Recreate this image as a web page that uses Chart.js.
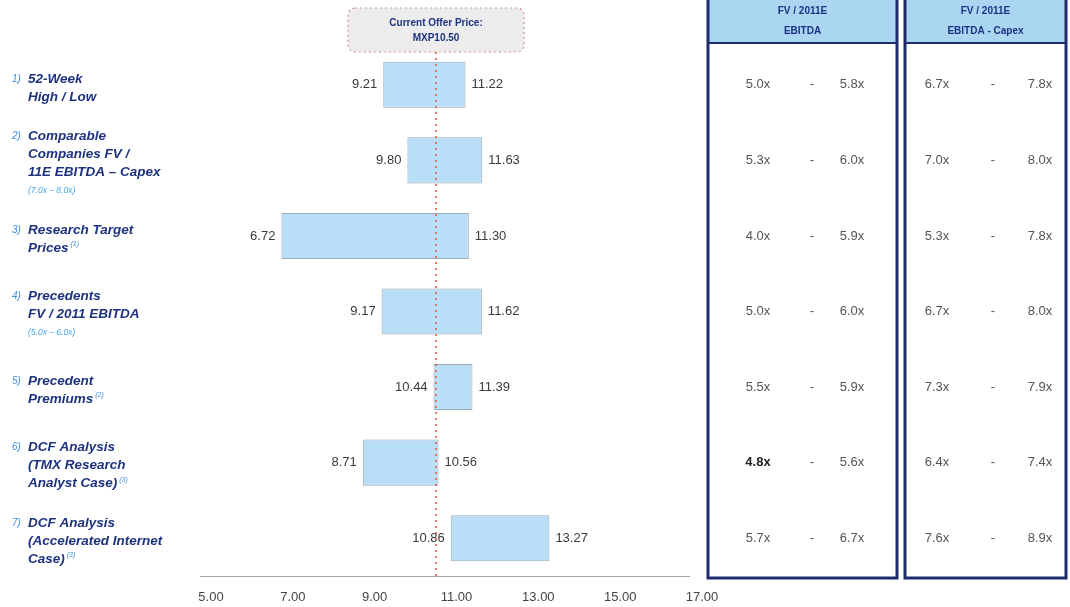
<!DOCTYPE html>
<html>
<head>
<meta charset="utf-8">
<script src="https://cdn.jsdelivr.net/npm/chart.js@4/dist/chart.umd.min.js"></script>
<style>
  html, body { margin: 0; padding: 0; background: #ffffff; }
  #wrap { position: relative; width: 1070px; height: 607px; }
</style>
</head>
<body>
<div id="wrap"><canvas id="football"></canvas></div>
<script>
// Valuation methods (one row each)
const categories = [
  '52-Week High / Low',
  'Comparable Companies FV / 11E EBITDA – Capex',
  'Research Target Prices',
  'Precedents FV / 2011 EBITDA',
  'Precedent Premiums',
  'DCF Analysis (TMX Research Analyst Case)',
  'DCF Analysis (Accelerated Internet Case)'
];
const labelLines = [
  ['52-Week', 'High / Low'],
  ['Comparable', 'Companies FV /', '11E EBITDA – Capex'],
  ['Research Target', 'Prices'],
  ['Precedents', 'FV / 2011 EBITDA'],
  ['Precedent', 'Premiums'],
  ['DCF Analysis', '(TMX Research', 'Analyst Case)'],
  ['DCF Analysis', '(Accelerated Internet', 'Case)']
];
const labelNotes = ['', '(7.0x – 8.0x)', '', '(5.0x – 6.0x)', '', '', ''];
const footnoteMarks = ['', '', '(1)', '', '(2)', '(3)', '(3)'];

// Implied share price ranges (MXP)
const lowValues  = [9.21, 9.80, 6.72, 9.17, 10.44, 8.71, 10.86];
const highValues = [11.22, 11.63, 11.30, 11.62, 11.39, 10.56, 13.27];
const offerPrice = 10.50;

// Implied multiples
const ebitdaLow  = [5.0, 5.3, 4.0, 5.0, 5.5, 4.8, 5.7];
const ebitdaHigh = [5.8, 6.0, 5.9, 6.0, 5.9, 5.6, 6.7];
const capexLow   = [6.7, 7.0, 5.3, 6.7, 7.3, 6.4, 7.6];
const capexHigh  = [7.8, 8.0, 7.8, 8.0, 7.9, 7.4, 8.9];

// Price axis
const axisMin = 5;
const axisMax = 17;
const axisStep = 2;

const NAVY = '#1d3280';
const LIGHT_BLUE = '#3f8fdc';
const FONT = '"Liberation Sans", Arial, sans-serif';

const ranges = lowValues.map((lo, i) => [lo, highValues[i]]);

const overlayPlugin = {
  id: 'overlay',
  afterDatasetsDraw(chart) {
    const { ctx, scales: { x } } = chart;
    const meta = chart.getDatasetMeta(0);

    // value labels at both ends of each bar
    ctx.save();
    ctx.font = '13px ' + FONT;
    ctx.fillStyle = '#3a3a3a';
    ctx.textBaseline = 'middle';
    meta.data.forEach((bar, i) => {
      const left = Math.min(bar.x, bar.base);
      const right = Math.max(bar.x, bar.base);
      ctx.textAlign = 'right';
      ctx.fillText(lowValues[i].toFixed(2), left - 6, bar.y);
      ctx.textAlign = 'left';
      ctx.fillText(highValues[i].toFixed(2), right + 6, bar.y);
    });
    ctx.restore();

    // offer price reference line
    const px = x.getPixelForValue(offerPrice);
    ctx.save();
    ctx.strokeStyle = '#e5553f';
    ctx.lineWidth = 1.5;
    ctx.setLineDash([2, 4]);
    ctx.beginPath();
    ctx.moveTo(px, 52);
    ctx.lineTo(px, chart.chartArea.bottom + 2);
    ctx.stroke();
    ctx.restore();
  },
  afterDraw(chart) {
    const { ctx, scales: { x, y } } = chart;

    // axis baseline
    ctx.save();
    ctx.strokeStyle = '#a8a8a8';
    ctx.lineWidth = 1;
    ctx.beginPath();
    ctx.moveTo(x.getPixelForValue(axisMin) - 11, chart.chartArea.bottom + 0.5);
    ctx.lineTo(x.getPixelForValue(axisMax) - 12, chart.chartArea.bottom + 0.5);
    ctx.stroke();
    ctx.restore();

    // offer price callout
    const px = x.getPixelForValue(offerPrice);
    ctx.save();
    const bw = 176, bh = 44, bx = px - bw / 2, by = 8;
    ctx.beginPath();
    ctx.roundRect(bx, by, bw, bh, 7);
    ctx.fillStyle = '#ececec';
    ctx.fill();
    ctx.setLineDash([2, 3]);
    ctx.strokeStyle = '#d19690';
    ctx.lineWidth = 1.2;
    ctx.stroke();
    ctx.setLineDash([]);
    ctx.fillStyle = NAVY;
    ctx.font = 'bold 10px ' + FONT;
    ctx.textAlign = 'center';
    ctx.textBaseline = 'middle';
    ctx.fillText('Current Offer Price:', px, by + 15);
    ctx.fillText('MXP' + offerPrice.toFixed(2), px, by + 30);
    ctx.restore();

    // method labels on the left
    ctx.save();
    ctx.textBaseline = 'middle';
    ctx.textAlign = 'left';
    const lineH = 18;
    const noteH = 18;
    categories.forEach((cat, i) => {
      const cy = y.getPixelForValue(i) + 3;
      const lines = labelLines[i];
      const blockH = (lines.length - 1) * lineH + (labelNotes[i] ? noteH : 0);
      let ty = cy - blockH / 2;
      ctx.font = 'italic 10px ' + FONT;
      ctx.fillStyle = LIGHT_BLUE;
      ctx.fillText((i + 1) + ')', 12, ty);
      lines.forEach((ln, k) => {
        ctx.font = 'italic bold 13.5px ' + FONT;
        ctx.fillStyle = NAVY;
        ctx.fillText(ln, 28, ty);
        if (k === lines.length - 1 && footnoteMarks[i]) {
          const w = ctx.measureText(ln).width;
          ctx.font = 'italic 7px ' + FONT;
          ctx.fillStyle = LIGHT_BLUE;
          ctx.fillText(footnoteMarks[i], 28 + w + 2, ty - 4);
        }
        if (k < lines.length - 1) ty += lineH;
      });
      if (labelNotes[i]) {
        ctx.font = 'italic 8.5px ' + FONT;
        ctx.fillStyle = '#4aa6ea';
        ctx.fillText(labelNotes[i], 28, ty + noteH);
      }
    });
    ctx.restore();

    // multiples tables
    const tables = [
      { left: 708, right: 897, title: ['FV / 2011E', 'EBITDA'], lo: ebitdaLow, hi: ebitdaHigh, cols: [758, 812, 852] },
      { left: 905, right: 1066, title: ['FV / 2011E', 'EBITDA - Capex'], lo: capexLow, hi: capexHigh, cols: [937, 993, 1040] }
    ];
    const boxBottom = 578;
    const headerH = 43;
    tables.forEach(t => {
      ctx.save();
      ctx.fillStyle = '#aad6f2';
      ctx.fillRect(t.left, 0, t.right - t.left, headerH);
      ctx.strokeStyle = '#1e2c6e';
      ctx.lineWidth = 2;
      ctx.beginPath();
      ctx.moveTo(t.left, headerH);
      ctx.lineTo(t.right, headerH);
      ctx.stroke();
      ctx.lineWidth = 3;
      ctx.strokeRect(t.left, -4, t.right - t.left, boxBottom + 4);
      ctx.fillStyle = NAVY;
      ctx.font = 'bold 10px ' + FONT;
      ctx.textAlign = 'center';
      ctx.textBaseline = 'middle';
      const cx = (t.left + t.right) / 2;
      ctx.fillText(t.title[0], cx, 11);
      ctx.fillText(t.title[1], cx, 31);
      categories.forEach((c, i) => {
        const cy = y.getPixelForValue(i);
        const strong = t.lo === ebitdaLow && i === 5;
        ctx.font = (strong ? 'bold ' : '') + '13px ' + FONT;
        ctx.fillStyle = strong ? '#222222' : '#555555';
        ctx.fillText(t.lo[i].toFixed(1) + 'x', t.cols[0], cy);
        ctx.font = '13px ' + FONT;
        ctx.fillStyle = '#555555';
        ctx.fillText('-', t.cols[1], cy);
        ctx.fillText(t.hi[i].toFixed(1) + 'x', t.cols[2], cy);
      });
      ctx.restore();
    });
  }
};

new Chart(document.getElementById('football'), {
  type: 'bar',
  data: {
    labels: categories,
    datasets: [{
      data: ranges,
      backgroundColor: '#b9def7',
      borderColor: '#9aaab8',
      borderWidth: 1,
      borderSkipped: false,
      categoryPercentage: 1,
      barPercentage: 0.61
    }]
  },
  options: {
    indexAxis: 'y',
    responsive: true,
    maintainAspectRatio: false,
    animation: false,
    layout: { padding: { top: 47, left: 211, right: 368, bottom: 0 } },
    plugins: {
      legend: { display: false },
      tooltip: { enabled: false }
    },
    scales: {
      y: {
        display: false
      },
      x: {
        type: 'linear',
        min: axisMin,
        max: axisMax,
        grid: { display: false, drawTicks: false },
        border: { display: false },
        ticks: {
          stepSize: axisStep,
          padding: 14,
          color: '#444444',
          font: { family: FONT, size: 13 },
          callback: v => Number(v).toFixed(2)
        },
        afterFit(scale) { scale.height = 31; }
      }
    }
  },
  plugins: [overlayPlugin]
});
</script>
</body>
</html>
